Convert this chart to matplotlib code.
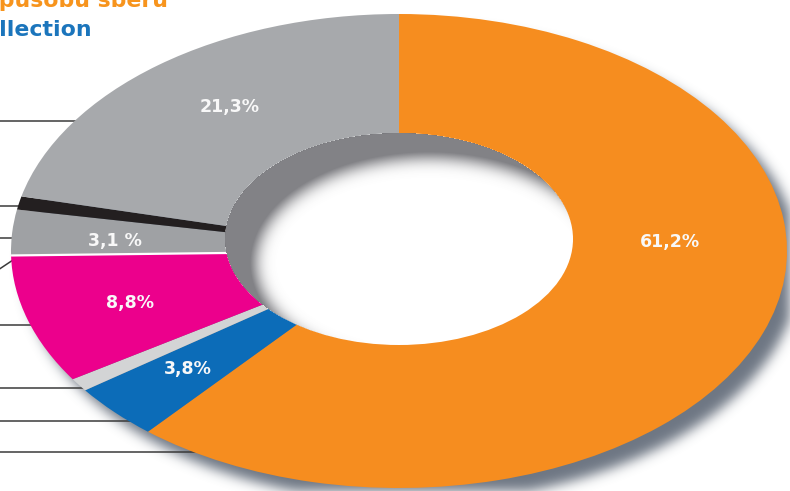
import numpy as np
import matplotlib
matplotlib.use("Agg")
import matplotlib.pyplot as plt
from matplotlib.patches import Ellipse
from matplotlib.transforms import Affine2D

# -----------------------
# Data (clockwise from 12 o'clock)
# -----------------------

shares = [61.2, 3.8, 0.9, 8.8, 3.1, 0.9, 21.3]
colors = ["#f68d1f", "#0c6cb8", "#d3d4d5", "#ec008c", "#9fa1a4", "#231f20", "#a7a9ac"]
labels = ["61,2%", "3,8%", "", "8,8%", "3,1 %", "", "21,3%"]
label_xy = [(670, 242), (188, 369), None, (130, 303), (115, 241), None, (230, 107)]

# leader lines running off to the left edge (pixel rows)
leader_y = [121, 206, 238, 325, 388, 421, 452]

W, H = 790, 491
cx, cy = 399, 251          # ellipse centre
a, b = 388, 237            # outer semi-axes
hx, hy = 399, 239          # hole centre (tilted view)
ha, hb = 174, 106          # hole semi-axes


def ellipse_mask(x0, y0, ea, eb):
    yy, xx = np.mgrid[0:H, 0:W] + 0.5
    return (((xx - x0) / ea) ** 2 + ((yy - y0) / eb) ** 2 <= 1).astype(float)


def blur(img, s):
    r = int(3 * s)
    k = np.exp(-0.5 * (np.arange(-r, r + 1) / s) ** 2)
    k /= k.sum()
    img = np.array([np.convolve(row, k, mode="same") for row in img])
    img = np.array([np.convolve(col, k, mode="same") for col in img.T]).T
    return img


def rgba(alpha, rgb):
    out = np.zeros((H, W, 4))
    out[..., :3] = rgb
    out[..., 3] = alpha
    return out


fig = plt.figure(figsize=(W / 100, H / 100), dpi=100)
ax = fig.add_axes([0, 0, 1, 1])

wedges, _ = ax.pie(shares, colors=colors, startangle=90, counterclock=False,
                   wedgeprops=dict(linewidth=0))
ax.set_aspect("auto")
ax.axis("off")

tr = Affine2D().scale(a, -b).translate(cx, cy) + ax.transData
for w in wedges:
    w.set_transform(tr)
    w.set_zorder(2)

# thin white seam between magenta and the small grey slice
edge = 90 - 360 * sum(shares[:4]) / 100
t = np.radians(edge)
ax.plot([0, np.cos(t)], [0, np.sin(t)], color="white", lw=1.6,
        transform=tr, zorder=2.5, solid_capstyle="butt")

# drop shadow of the ring
sh = blur(ellipse_mask(cx + 13, cy + 14, a, b), 6)
ax.imshow(rgba(sh * 0.85, (0.33, 0.37, 0.43)), extent=(0, W, H, 0), zorder=1,
          interpolation="bilinear")

# hole with inner shadow
ax.add_patch(Ellipse((hx, hy), 2 * ha, 2 * hb, color="white", lw=0, zorder=3))
hole = ellipse_mask(hx, hy, ha, hb)
inner = blur(1 - ellipse_mask(hx + 30, hy + 24, ha, hb), 8) * hole
ax.imshow(rgba(np.clip(inner * 1.1, 0, 0.82), (0.40, 0.40, 0.42)),
          extent=(0, W, H, 0), zorder=4, interpolation="bilinear")
ax.set_xlim(0, W)
ax.set_ylim(H, 0)

# leader lines
for y in leader_y:
    xe = cx - a * np.sqrt(max(0.0, 1 - ((y - cy) / b) ** 2))
    ax.plot([-2, xe + 4], [y, y], color="#3a3a3a", lw=1.1, zorder=1.5)
ax.plot([-2, 16], [270, 258], color="#3a3a3a", lw=1.1, zorder=1.5)

# slice labels
for txt, pos in zip(labels, label_xy):
    if pos is None:
        continue
    ax.text(pos[0], pos[1], txt, color="#f8f8f8", fontsize=12.5,
            fontweight="bold", ha="center", va="center", zorder=5)

# heading (runs off the left edge)
ax.text(168, 7, "podle způsobu sběru", color="#f7941d", fontsize=15.8,
        fontweight="bold", ha="right", va="baseline", zorder=5)
ax.text(92, 36, "by collection", color="#1b75bc", fontsize=15.8,
        fontweight="bold", ha="right", va="baseline", zorder=5)

fig.savefig("out.png", dpi=100)
plt.close(fig)
